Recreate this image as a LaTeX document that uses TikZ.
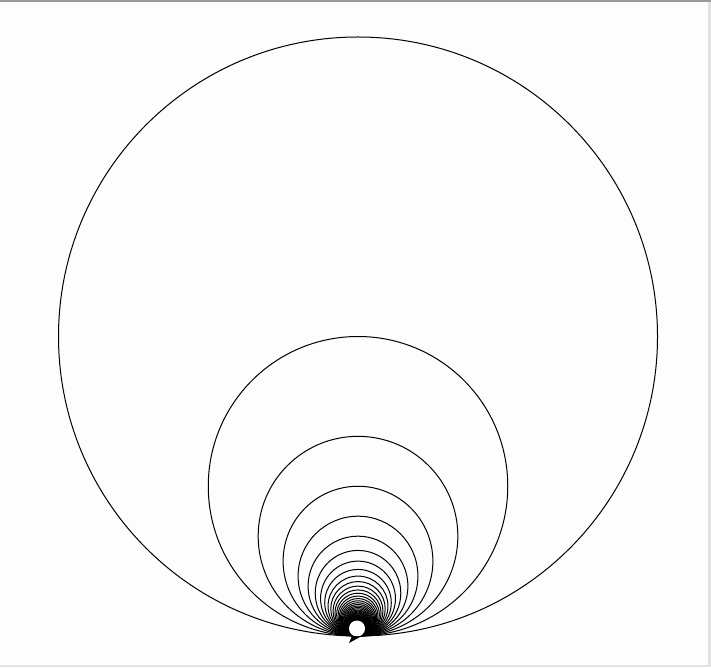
\documentclass[tikz,border=0pt]{standalone}
\definecolor{bgc}{HTML}{FDFDFD}
\definecolor{topgray}{HTML}{9A9A9A}
\definecolor{sidegray}{HTML}{E2E2E2}
\begin{document}
\begin{tikzpicture}[x=1pt,y=1pt,circ/.style={draw=black,line width=1pt}]
\fill[bgc] (0,0) rectangle (711,667);
\useasboundingbox (0,0) rectangle (711,667);
\fill[topgray] (0,665) rectangle (711,667);
\fill[sidegray] (708,0) rectangle (711,665);
\fill[sidegray] (0,0) rectangle (708,2.5);
\coordinate (T) at (358,31);
\foreach \n in {1,...,60}{
  \draw[circ] (358,{31+299.5/\n}) circle ({299.5/\n});
}
\fill[white] (357,38.5) circle (8);
\fill[black] (349,24) -- (352,31) -- (361,30.5) -- cycle;
\end{tikzpicture}
\end{document}
